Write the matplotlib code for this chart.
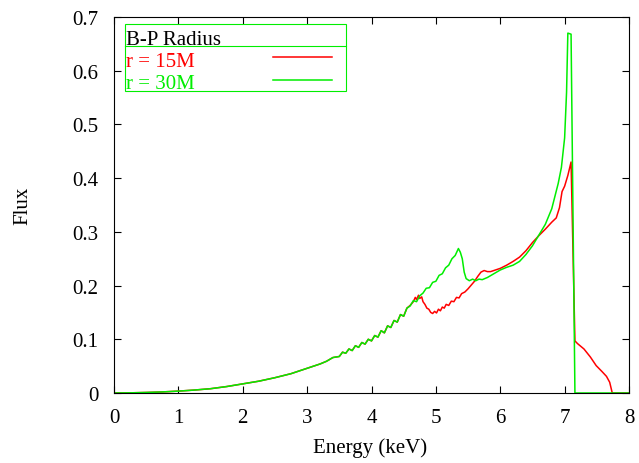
import matplotlib
matplotlib.use("Agg")
import matplotlib.pyplot as plt
from matplotlib.patches import Rectangle

plt.rcParams['font.family'] = ['Liberation Serif', 'DejaVu Serif']

# values (both curves overlap below ~4.6 keV)
energy_common = [0, 0.25, 0.5, 0.75, 1.0, 1.25, 1.5, 1.75, 2.0, 2.25, 2.5, 2.75,
                 3.0, 3.2, 3.3, 3.4, 3.5, 3.55, 3.6, 3.65, 3.7, 3.75, 3.8, 3.85,
                 3.9, 3.95, 4.0, 4.05, 4.1, 4.15, 4.2, 4.25, 4.3, 4.35, 4.4,
                 4.45, 4.5, 4.55]
flux_common = [0, 0.0003, 0.001, 0.002, 0.0035, 0.0055, 0.008, 0.012, 0.017,
               0.022, 0.0285, 0.036, 0.046, 0.054, 0.059, 0.066, 0.068, 0.076,
               0.074, 0.082, 0.079, 0.088, 0.085, 0.094, 0.091, 0.100, 0.097,
               0.107, 0.104, 0.116, 0.112, 0.125, 0.122, 0.135, 0.132, 0.146,
               0.143, 0.158]

energy_15 = [4.6, 4.65, 4.68, 4.7, 4.73, 4.75, 4.78, 4.8, 4.83, 4.86, 4.89, 4.92,
             4.95, 4.98, 5.01, 5.04, 5.07, 5.1, 5.13, 5.16, 5.2, 5.24, 5.28,
             5.32, 5.36, 5.4, 5.45, 5.5, 5.55, 5.6, 5.65, 5.7, 5.75, 5.8, 5.85,
             5.9, 6.0, 6.1, 6.2, 6.3, 6.4, 6.5, 6.6, 6.7, 6.8, 6.87, 6.92,
             6.96, 7.0, 7.05, 7.1, 7.16, 7.2, 7.3, 7.4, 7.49, 7.58, 7.65, 7.7,
             7.74, 8.0]
flux_15 = [0.163, 0.170, 0.178, 0.174, 0.182, 0.176, 0.179, 0.170, 0.165, 0.158,
           0.156, 0.150, 0.148, 0.152, 0.149, 0.156, 0.153, 0.160, 0.158, 0.165,
           0.163, 0.171, 0.170, 0.178, 0.177, 0.185, 0.188, 0.194, 0.201, 0.208,
           0.217, 0.225, 0.228, 0.226, 0.226, 0.228, 0.232, 0.238, 0.245, 0.253,
           0.265, 0.280, 0.293, 0.305, 0.318, 0.326, 0.345, 0.375, 0.385, 0.405,
           0.430, 0.097, 0.092, 0.082, 0.067, 0.051, 0.040, 0.031, 0.020, 0.0,
           0.0]

energy_30 = [4.6, 4.65, 4.7, 4.75, 4.8, 4.85, 4.9, 4.95, 5.0, 5.05, 5.1, 5.15,
             5.2, 5.25, 5.3, 5.35, 5.38, 5.41, 5.44, 5.47, 5.52, 5.57, 5.62,
             5.67, 5.72, 5.8, 5.9, 6.0, 6.1, 6.2, 6.3, 6.4, 6.5, 6.6, 6.7, 6.8,
             6.9, 6.95, 7.0, 7.03, 7.05, 7.1, 7.16, 8.0]
flux_30 = [0.162, 0.172, 0.170, 0.181, 0.186, 0.195, 0.196, 0.206, 0.208, 0.219,
           0.222, 0.233, 0.238, 0.250, 0.256, 0.269, 0.262, 0.250, 0.225, 0.213,
           0.209, 0.212, 0.209, 0.212, 0.211, 0.215, 0.222, 0.229, 0.234, 0.238,
           0.245, 0.258, 0.274, 0.294, 0.314, 0.343, 0.390, 0.420, 0.475, 0.560,
           0.670, 0.668, 0.0, 0.0]

x_ticks = [0, 1, 2, 3, 4, 5, 6, 7, 8]
y_ticks = [0, 0.1, 0.2, 0.3, 0.4, 0.5, 0.6, 0.7]
y_tick_labels = ['0', '0.1', '0.2', '0.3', '0.4', '0.5', '0.6', '0.7']

red = '#ff0000'
green = '#00ee00'
fs = 15

fig = plt.figure(figsize=(6.39, 4.64), dpi=100)
ax = fig.add_axes([114 / 639, 70 / 464, 515 / 639, 376 / 464])

ax.plot(energy_common + energy_15, flux_common + flux_15, color=red, lw=1.1)
ax.plot(energy_common + energy_30, flux_common + flux_30, color=green, lw=1.1)

ax.set_xlim(0, 8)
ax.set_ylim(0, 0.7)
ax.set_xticks(x_ticks)
ax.set_yticks(y_ticks)
ax.set_yticklabels(y_tick_labels)
ax.tick_params(direction='in', length=5, width=0.8, top=True, right=True,
               labelsize=fs, pad=11)
for s in ax.spines.values():
    s.set_linewidth(0.8)

ax.set_xlabel('Energy (keV)', fontsize=fs)
ax.set_ylabel('Flux', fontsize=fs)
ax.xaxis.set_label_coords(0.497, -0.117)
ax.yaxis.set_label_coords(-0.158, 0.5)

# key box in gnuplot style
ax.add_patch(Rectangle((0.0214, 0.803), 0.4291, 0.178, transform=ax.transAxes,
                       fill=False, edgecolor=green, lw=0.8, zorder=5))
ax.plot([0.0214, 0.4505], [0.923, 0.923], transform=ax.transAxes,
        color=green, lw=0.8, zorder=5)
ax.text(0.023, 0.928, 'B-P Radius', transform=ax.transAxes, fontsize=fs,
        va='baseline', ha='left', color='black')
ax.text(0.023, 0.870, 'r = 15M', transform=ax.transAxes, fontsize=fs,
        va='baseline', ha='left', color=red)
ax.text(0.023, 0.811, 'r = 30M', transform=ax.transAxes, fontsize=fs,
        va='baseline', ha='left', color=green)
ax.plot([0.308, 0.423], [0.893, 0.893], transform=ax.transAxes, color=red, lw=1.1)
ax.plot([0.308, 0.423], [0.833, 0.833], transform=ax.transAxes, color=green, lw=1.1)

fig.savefig('out.png', dpi=100)
